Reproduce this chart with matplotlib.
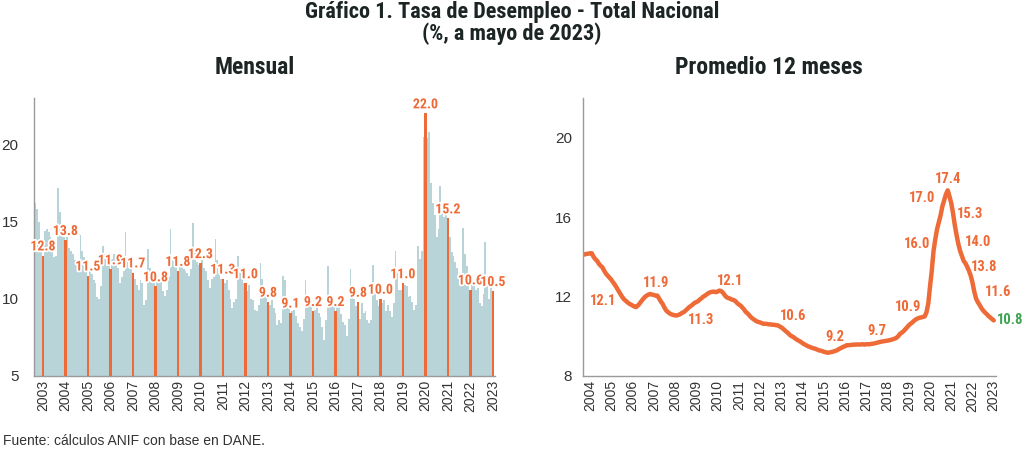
import numpy as np
import matplotlib
matplotlib.use('Agg')
import matplotlib.pyplot as plt
import matplotlib.patheffects as pe
from matplotlib import font_manager

# tasa de desempleo mensual, total nacional (ene-dic por año)
m2003 = [16.2, 15.8, 15.0, 13.6, 12.8, 14.4, 14.5, 14.3, 14.0, 13.3, 12.7, 12.8]
m2004 = [17.2, 15.6, 14.6, 14.0, 13.8, 14.0, 13.3, 13.1, 12.9, 12.5, 12.2, 11.8]
m2005 = [14.1, 13.1, 12.7, 12.3, 11.5, 11.9, 11.6, 11.2, 11.0, 10.1, 10.0, 10.8]
m2006 = [13.4, 12.9, 12.1, 12.4, 11.9, 12.6, 12.9, 12.5, 12.0, 11.0, 11.4, 11.8]
m2007 = [14.3, 12.4, 12.0, 11.9, 11.7, 11.3, 10.9, 10.6, 11.2, 11.0, 9.6, 9.9]
m2008 = [13.2, 12.0, 11.6, 11.1, 10.8, 11.2, 11.3, 11.4, 10.5, 10.2, 10.6, 11.4]
m2009 = [14.5, 12.7, 12.6, 12.1, 11.8, 12.3, 12.2, 11.9, 11.8, 11.7, 11.5, 11.9]
m2010 = [14.9, 13.1, 12.4, 12.2, 12.3, 12.5, 12.0, 11.8, 11.2, 10.7, 11.3, 11.4]
m2011 = [13.9, 12.5, 11.7, 11.3, 11.3, 11.0, 11.2, 10.6, 10.0, 9.4, 9.8, 10.0]
m2012 = [12.8, 12.0, 11.4, 11.0, 11.0, 10.5, 10.9, 10.0, 9.9, 9.3, 9.2, 9.6]
m2013 = [12.3, 11.3, 10.5, 10.3, 9.8, 9.6, 9.9, 9.4, 9.1, 8.3, 8.6, 8.4]
m2014 = [11.5, 11.2, 10.1, 9.6, 9.1, 9.2, 9.3, 8.9, 8.4, 8.2, 7.9, 8.7]
m2015 = [11.2, 10.2, 9.6, 9.5, 9.2, 9.3, 9.5, 9.1, 8.8, 8.2, 7.3, 8.6]
m2016 = [12.1, 10.1, 10.0, 9.6, 9.2, 9.6, 9.8, 9.0, 8.5, 8.3, 7.6, 8.7]
m2017 = [11.9, 10.5, 10.0, 9.5, 9.8, 8.7, 9.7, 9.1, 9.2, 8.6, 8.4, 8.6]
m2018 = [12.2, 10.6, 9.9, 9.5, 10.0, 9.7, 9.9, 9.2, 9.6, 9.2, 8.8, 9.7]
m2019 = [13.1, 11.9, 10.6, 10.6, 11.0, 10.9, 10.8, 10.1, 10.2, 9.8, 9.3, 9.6]
m2020 = [13.4, 12.6, 13.1, 20.5, 22.0, 20.4, 20.8, 17.5, 16.2, 15.4, 14.0, 14.5]
m2021 = [17.3, 16.0, 15.3, 15.9, 15.2, 14.0, 13.0, 12.8, 12.4, 12.0, 11.4, 11.6]
m2022 = [14.6, 12.9, 12.1, 11.2, 10.6, 11.3, 11.0, 10.6, 10.7, 9.7, 9.5, 10.3]
m2023 = [13.7, 11.4, 10.0, 10.7, 10.5]

# promedio 12 meses (ene 2004 - may 2023)
a2004 = [14.13, 14.12, 14.15, 14.16, 14.18, 14.18, 14.0, 13.88, 13.8, 13.65, 13.55, 13.47]
a2005 = [13.3, 13.15, 13.05, 12.95, 12.85, 12.72, 12.6, 12.45, 12.3, 12.15, 12.0, 11.88]
a2006 = [11.8, 11.72, 11.65, 11.6, 11.55, 11.5, 11.47, 11.55, 11.65, 11.77, 11.88, 11.98]
a2007 = [12.05, 12.1, 12.13, 12.1, 12.08, 12.05, 12.05, 11.9, 11.75, 11.63, 11.45, 11.3]
a2008 = [11.22, 11.15, 11.1, 11.08, 11.05, 11.05, 11.08, 11.12, 11.18, 11.22, 11.3, 11.38]
a2009 = [11.47, 11.53, 11.6, 11.68, 11.72, 11.77, 11.85, 11.92, 12.0, 12.05, 12.12, 12.18]
a2010 = [12.22, 12.24, 12.25, 12.22, 12.25, 12.3, 12.28, 12.2, 12.08, 11.97, 11.93, 11.9]
a2011 = [11.85, 11.83, 11.78, 11.68, 11.6, 11.55, 11.45, 11.35, 11.22, 11.15, 11.05, 10.95]
a2012 = [10.88, 10.82, 10.76, 10.72, 10.7, 10.66, 10.63, 10.63, 10.62, 10.6, 10.6, 10.58]
a2013 = [10.58, 10.56, 10.55, 10.5, 10.45, 10.38, 10.3, 10.22, 10.15, 10.05, 10.0, 9.95]
a2014 = [9.88, 9.82, 9.77, 9.72, 9.65, 9.6, 9.55, 9.5, 9.47, 9.43, 9.4, 9.38]
a2015 = [9.34, 9.3, 9.28, 9.26, 9.22, 9.2, 9.17, 9.18, 9.2, 9.22, 9.25, 9.28]
a2016 = [9.32, 9.38, 9.42, 9.47, 9.5, 9.55, 9.55, 9.56, 9.57, 9.58, 9.58, 9.59]
a2017 = [9.58, 9.59, 9.6, 9.58, 9.6, 9.6, 9.6, 9.62, 9.63, 9.65, 9.67, 9.7]
a2018 = [9.72, 9.74, 9.75, 9.77, 9.78, 9.8, 9.82, 9.85, 9.88, 9.92, 10.0, 10.12]
a2019 = [10.18, 10.25, 10.35, 10.45, 10.55, 10.63, 10.7, 10.78, 10.85, 10.9, 10.93, 10.95]
a2020 = [10.97, 11.0, 11.2, 11.63, 12.5, 13.3, 14.3, 14.9, 15.4, 15.75, 16.1, 16.55]
a2021 = [16.85, 17.15, 17.35, 17.05, 16.7, 16.2, 15.6, 15.1, 14.65, 14.3, 14.05, 13.8]
a2022 = [13.68, 13.5, 13.3, 13.05, 12.7, 12.25, 11.9, 11.72, 11.58, 11.42, 11.3, 11.2]
a2023 = [11.12, 11.02, 10.95, 10.87, 10.8]

years_m = [str(y) for y in range(2003, 2024)]
years_a = [str(y) for y in range(2004, 2024)]
labels_a = ["12.1", "11.9", "11.3", "12.1", "10.6", "9.2", "9.7", "10.9",
            "16.0", "17.0", "17.4", "15.3", "14.0", "13.8", "11.6", "10.8"]

monthly = (m2003 + m2004 + m2005 + m2006 + m2007 + m2008 + m2009 + m2010 + m2011
           + m2012 + m2013 + m2014 + m2015 + m2016 + m2017 + m2018 + m2019 + m2020
           + m2021 + m2022 + m2023)
avg12 = (a2004 + a2005 + a2006 + a2007 + a2008 + a2009 + a2010 + a2011 + a2012
         + a2013 + a2014 + a2015 + a2016 + a2017 + a2018 + a2019 + a2020 + a2021
         + a2022 + a2023)

ORANGE = '#ee6a37'
LIGHT = '#b8d4d9'
GREEN = '#3fa452'
DARK = '#1c2424'
REG = ['Liberation Sans', 'DejaVu Sans']


def pick_narrow():
    # buscar una fuente condensada instalada; si no hay, Liberation Sans mas chica
    fonts = font_manager.fontManager.ttflist
    for name in ('Liberation Sans Narrow', 'Roboto Condensed', 'Open Sans Condensed',
                 'Noto Sans Condensed'):
        if any(f.name == name for f in fonts):
            return {'family': [name, 'DejaVu Sans']}, 1.0
    for name in ('DejaVu Sans', 'Noto Sans', 'Open Sans', 'Roboto'):
        if any(f.name == name and f.stretch not in ('normal', 500) and f.weight in ('bold', 700)
               for f in fonts):
            return {'family': [name], 'stretch': 'condensed'}, 0.95
    return {'family': REG}, 0.86


NARROW, SC = pick_narrow()
TS = 16 if SC >= 0.95 else 14

fig = plt.figure(figsize=(10.24, 4.51), dpi=100)
ax1 = fig.add_axes([0.0332, 0.1663, 0.450, 0.6164])
ax2 = fig.add_axes([0.5693, 0.1663, 0.4034, 0.6164])

# --- Mensual ---
x = np.arange(len(monthly))
may_idx = [4 + 12 * i for i in range(len(years_m))]
may_vals = [monthly[i] for i in may_idx]
ax1.bar(x, monthly, width=1.0, color=LIGHT, linewidth=0)
ax1.bar(may_idx, may_vals, width=1.4, color=ORANGE, linewidth=0)
for i, v in zip(may_idx, may_vals):
    ax1.annotate(f'{v:.1f}', (i, v), xytext=(0, 1.5), textcoords='offset points',
                 ha='center', va='bottom', fontsize=10 * SC, fontweight='bold',
                 color=ORANGE, zorder=5, **NARROW,
                 path_effects=[pe.withStroke(linewidth=2.5, foreground='white')])
ax1.set_xlim(-0.8, 245)
ax1.set_ylim(5, 23)
ax1.set_yticks([5, 10, 15, 20])
ax1.set_xticks(may_idx)
ax1.set_xticklabels(years_m, rotation=90, family=REG, fontsize=10, color='#333333')
for t in ax1.get_yticklabels():
    t.set_family(REG)
    t.set_fontsize(11)
    t.set_color('#333333')
ax1.tick_params(axis='x', length=0, pad=3)
ax1.tick_params(axis='y', length=0, pad=11)

# --- Promedio 12 meses ---
xa = np.arange(len(avg12))
ax2.plot(xa, avg12, color=ORANGE, lw=3.2, solid_capstyle='round', solid_joinstyle='round')
label_pos = [(11.1, 11.8), (41.2, 12.67), (66.5, 10.83), (83, 12.8), (118.8, 11.0),
             (142.4, 9.97), (166, 10.27), (183.8, 11.47), (188.5, 14.67), (191.3, 16.97),
             (206.4, 17.93), (218.6, 16.17), (223.3, 14.77), (226.5, 13.47),
             (234.6, 12.22), (241.0, 10.83)]
for k, (txt, (px, py)) in enumerate(zip(labels_a, label_pos)):
    col = GREEN if k == len(labels_a) - 1 else ORANGE
    ax2.text(px, py, txt, ha='center', va='center', fontsize=10.5 * SC,
             fontweight='bold', color=col, **NARROW)
ax2.set_xlim(0, 233.3)
ax2.set_ylim(8, 22)
ax2.set_yticks([8, 12, 16, 20])
ax2.set_xticks([4 + 12 * i for i in range(len(years_a))])
ax2.set_xticklabels(years_a, rotation=90, family=REG, fontsize=10, color='#333333')
for t in ax2.get_yticklabels():
    t.set_family(REG)
    t.set_fontsize(11)
    t.set_color('#333333')
ax2.tick_params(axis='x', length=0, pad=3)
ax2.tick_params(axis='y', length=0, pad=8)

for ax in (ax1, ax2):
    ax.spines['top'].set_visible(False)
    ax.spines['right'].set_visible(False)
    for s in ('left', 'bottom'):
        ax.spines[s].set_color('#9a9a9a')
        ax.spines[s].set_linewidth(1)

fig.text(0.5, 1 - 12 / 451, 'Gráfico 1. Tasa de Desempleo - Total Nacional', ha='center',
         va='center', fontsize=TS, fontweight='bold', color=DARK, **NARROW)
fig.text(0.5, 1 - 34 / 451, '(%, a mayo de 2023)', ha='center', va='center',
         fontsize=TS, fontweight='bold', color=DARK, **NARROW)
fig.text(255 / 1024, 1 - 67 / 451, 'Mensual', ha='center', va='center',
         fontsize=TS + 1, fontweight='bold', color=DARK, **NARROW)
fig.text(769 / 1024, 1 - 67 / 451, 'Promedio 12 meses', ha='center', va='center',
         fontsize=TS + 1, fontweight='bold', color=DARK, **NARROW)
fig.text(3 / 1024, 1 - 441 / 451, 'Fuente: cálculos ANIF con base en DANE.', ha='left',
         va='center', fontsize=10, family=REG, color='#333333')

fig.savefig('out.png', dpi=100)
